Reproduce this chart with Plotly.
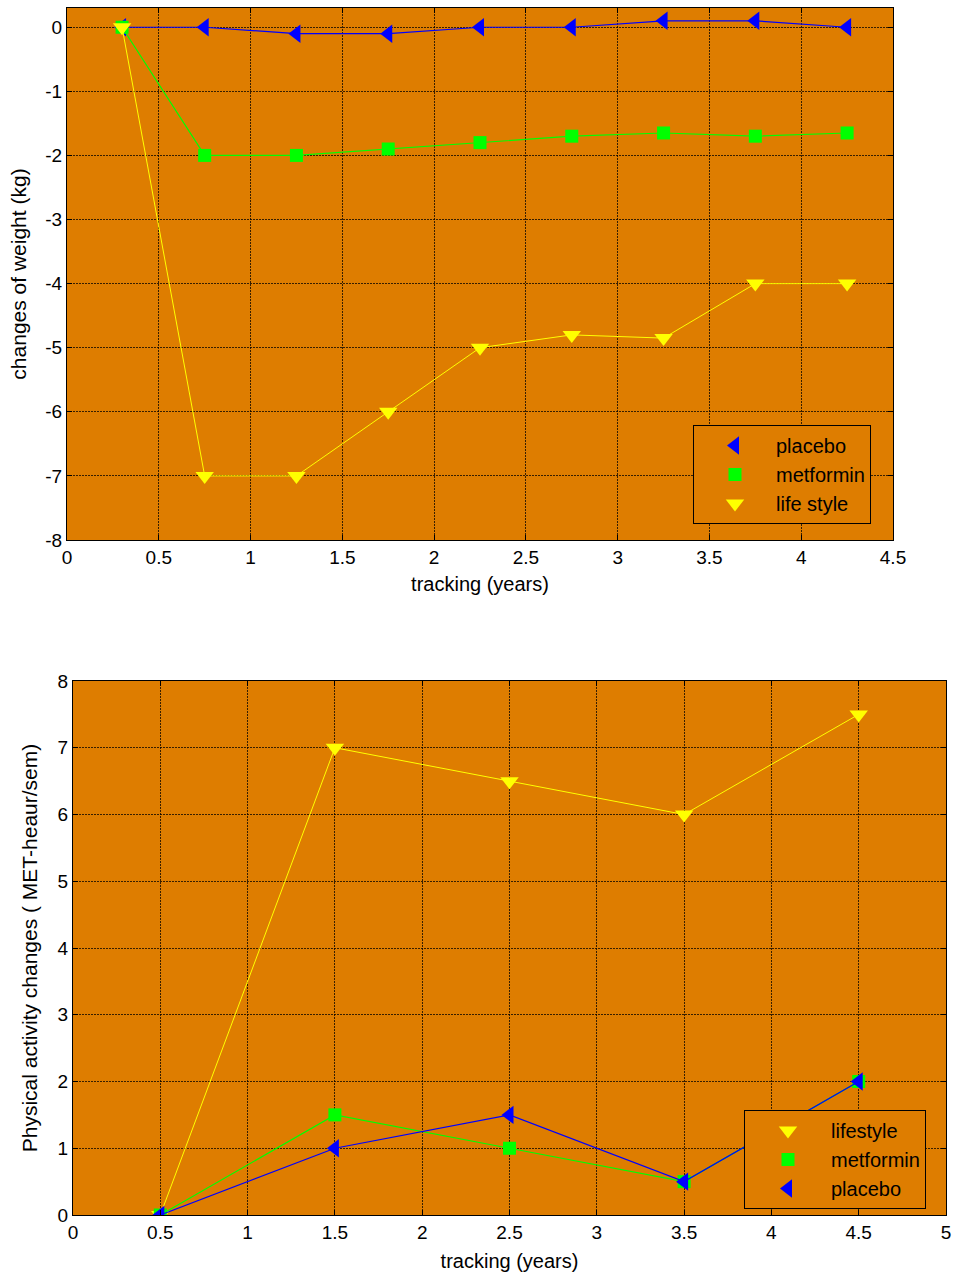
import plotly.graph_objects as go

# Weight-change panel
weight_years = [0.3, 0.75, 1.25, 1.75, 2.25, 2.75, 3.25, 3.75, 4.25]
weight_placebo = [0, 0, -0.1, -0.1, 0, 0, 0.1, 0.1, 0]
weight_metformin = [0, -2, -2, -1.9, -1.8, -1.7, -1.65, -1.7, -1.65]
weight_lifestyle = [0, -7, -7, -6, -5, -4.8, -4.85, -4, -4]

# Physical-activity panel
activity_years = [0.5, 1.5, 2.5, 3.5, 4.5]
activity_lifestyle = [0, 7, 6.5, 6, 7.5]
activity_metformin = [0, 1.5, 1, 0.5, 2]
activity_placebo = [0, 1, 1.5, 0.5, 2]

top_xticks = [0, 0.5, 1, 1.5, 2, 2.5, 3, 3.5, 4, 4.5]
top_yticks = [0, -1, -2, -3, -4, -5, -6, -7, -8]
top_ylabels = ["0", "-1", "-2", "-3", "-4", "-5", "-6", "-7", "-8"]
bottom_xticks = [0, 0.5, 1, 1.5, 2, 2.5, 3, 3.5, 4, 4.5, 5]
bottom_yticks = [0, 1, 2, 3, 4, 5, 6, 7, 8]

BLUE = "#0000FF"
GREEN = "#00FF00"
YELLOW = "#FFFF00"
BG = "#DE7D00"
FONT = "Liberation Sans, Arial, sans-serif"

fig = go.Figure()


def add_series(x, y, name, color, symbol, size, lw, xa, ya, legend):
    # connecting line (kept out of the legend) plus a marker-only trace
    fig.add_trace(go.Scatter(x=x, y=y, mode="lines", line=dict(color=color, width=lw),
                             showlegend=False, hoverinfo="skip",
                             xaxis=xa, yaxis=ya))
    fig.add_trace(go.Scatter(x=x, y=y, name=name, mode="markers",
                             marker=dict(symbol=symbol, size=size, color=color),
                             xaxis=xa, yaxis=ya, legend=legend))


# top panel
add_series(weight_years, weight_placebo, "placebo", BLUE, "triangle-left", 16, 1.2, "x", "y", "legend")
add_series(weight_years, weight_metformin, "metformin", GREEN, "square", 13, 1.2, "x", "y", "legend")
add_series(weight_years, weight_lifestyle, "life style", YELLOW, "triangle-down", 16, 1, "x", "y", "legend")

# bottom panel
add_series(activity_years, activity_lifestyle, "lifestyle", YELLOW, "triangle-down", 16, 1, "x2", "y2", "legend2")
add_series(activity_years, activity_metformin, "metformin", GREEN, "square", 13, 1.2, "x2", "y2", "legend2")
add_series(activity_years, activity_placebo, "placebo", BLUE, "triangle-left", 16, 1.2, "x2", "y2", "legend2")

W, H = 956, 1276

axis_common = dict(
    showline=True, linecolor="black", linewidth=1, mirror="ticks",
    ticks="inside", ticklen=5, tickcolor="black", automargin=False,
    showgrid=True, gridcolor="rgba(0,0,0,0.75)", griddash="2px,1px", gridwidth=1,
    zeroline=False, tickfont=dict(family=FONT, size=19, color="black"),
)

legend_common = dict(
    bgcolor=BG, bordercolor="black", borderwidth=1,
    font=dict(family=FONT, size=20, color="black"),
    tracegroupgap=0, xanchor="left", yanchor="top",
)

fig.update_layout(
    width=W, height=H,
    margin=dict(l=0, r=0, t=0, b=0),
    paper_bgcolor="white", plot_bgcolor=BG,
    font=dict(family=FONT, color="black"),
    xaxis=dict(domain=[67 / W, 893 / W], range=[0, 4.5], tickvals=top_xticks,
               anchor="y",
               title=dict(text="tracking (years)", font=dict(size=20), standoff=10),
               **axis_common),
    yaxis=dict(domain=[(H - 540) / H, (H - 8) / H], range=[-8, 0.3],
               tickvals=top_yticks, ticktext=top_ylabels,
               anchor="x",
               title=dict(text="changes of weight (kg)", font=dict(size=21), standoff=12),
               **axis_common),
    xaxis2=dict(domain=[73 / W, 946 / W], range=[0, 5], tickvals=bottom_xticks,
                anchor="y2",
                title=dict(text="tracking (years)", font=dict(size=20), standoff=12),
                **axis_common),
    yaxis2=dict(domain=[(H - 1215) / H, (H - 681) / H], range=[0, 8], tickvals=bottom_yticks,
                anchor="x2",
                title=dict(text="Physical activity changes ( MET-heaur/sem)",
                           font=dict(size=21), standoff=14),
                **axis_common),
    legend=dict(x=693 / W, y=(H - 425) / H, itemwidth=72, **legend_common),
    legend2=dict(x=744 / W, y=(H - 1110) / H, itemwidth=76, **legend_common),
)

fig.write_html("out.html")
